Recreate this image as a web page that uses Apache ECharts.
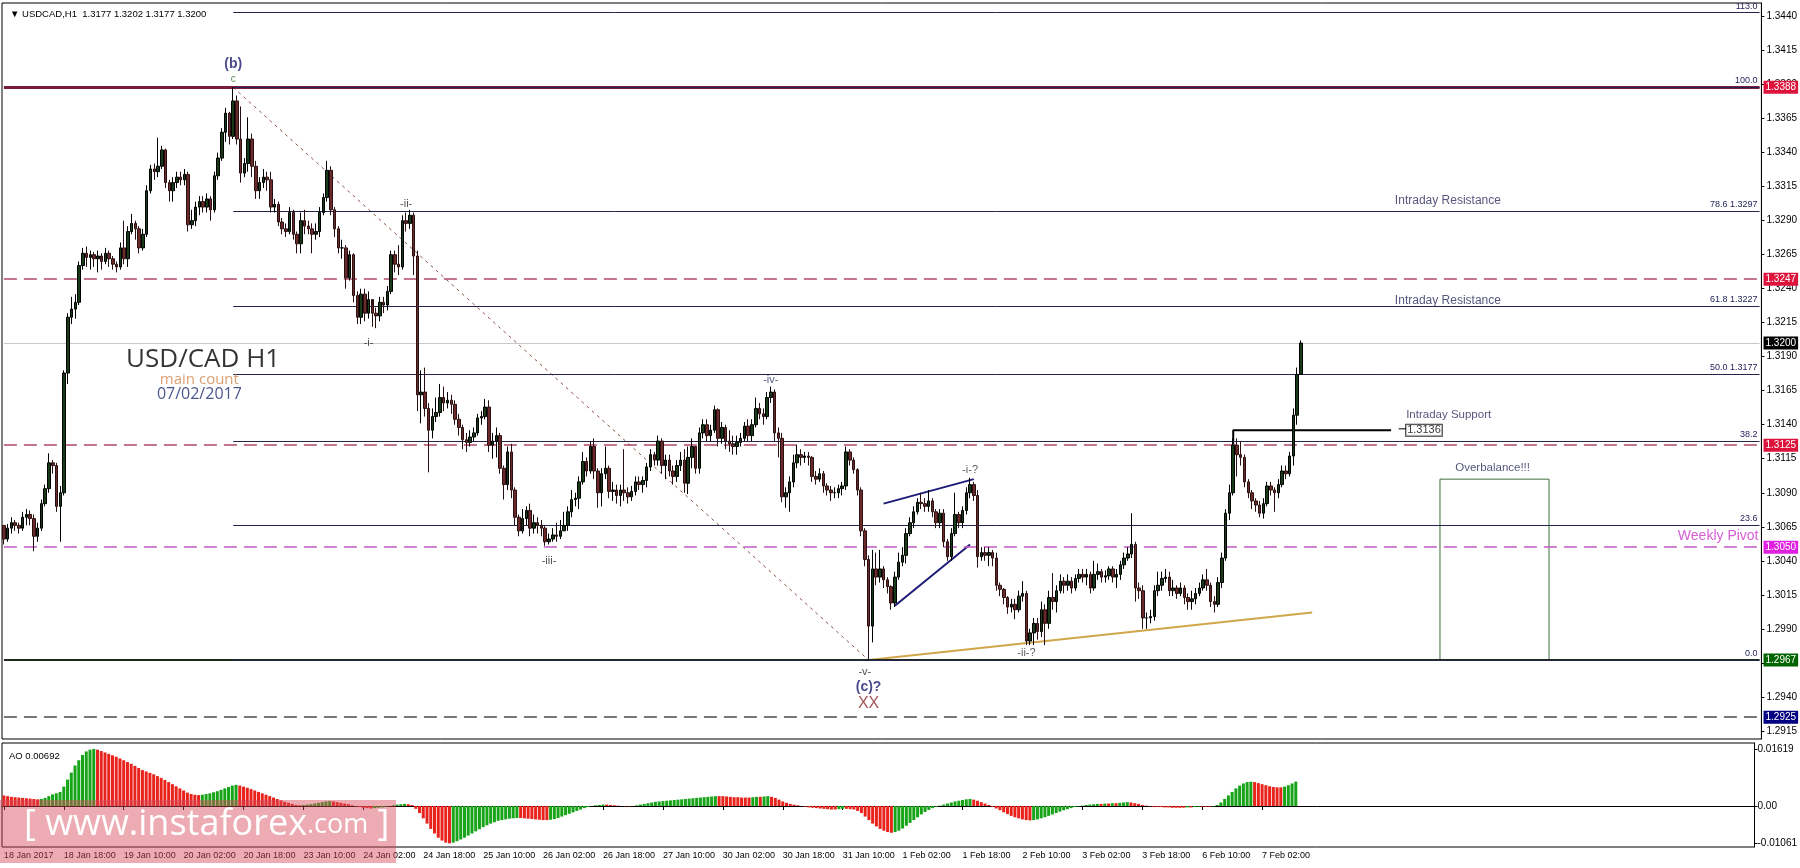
<!DOCTYPE html>
<html><head><meta charset="utf-8">
<script src="https://cdn.jsdelivr.net/npm/echarts@6/dist/echarts.min.js"></script>
<style>html,body{margin:0;padding:0;background:#fff}#c{width:1800px;height:868px}</style>
</head><body><div id="c"></div><script>
// ---------------- data ----------------
const timeLabels = ['18 Jan 2017','18 Jan 18:00','19 Jan 10:00','20 Jan 02:00','20 Jan 18:00','23 Jan 10:00','24 Jan 02:00','24 Jan 18:00','25 Jan 10:00','26 Jan 02:00','26 Jan 18:00','27 Jan 10:00','30 Jan 02:00','30 Jan 18:00','31 Jan 10:00','1 Feb 02:00','1 Feb 18:00','2 Feb 10:00','3 Feb 02:00','3 Feb 18:00','6 Feb 10:00','7 Feb 02:00'];
const firstOpen = 1.3066;
const closes = [
1.3056,1.3064,1.3068,1.3066,1.3064,1.3072,1.3074,1.3071,1.3058,1.3064,
1.3082,1.3093,1.3112,1.3110,1.3080,1.3090,1.3178,1.3219,1.3225,1.3230,
1.3257,1.3266,1.3263,1.3265,1.3262,1.3264,1.3260,1.3266,1.3262,1.3258,
1.3256,1.3270,1.3262,1.3282,1.3288,1.3284,1.3270,1.3280,1.3312,1.3328,
1.3326,1.3330,1.3342,1.3318,1.3312,1.3318,1.3322,1.3320,1.3324,1.3287,
1.3290,1.3300,1.3304,1.3300,1.3306,1.3298,1.3323,1.3336,1.3355,1.3369,
1.3352,1.3378,1.3350,1.3325,1.3332,1.3350,1.3330,1.3312,1.3318,1.3322,
1.3320,1.3300,1.3302,1.3289,1.3284,1.3282,1.3296,1.3280,1.3273,1.3290,
1.3286,1.3284,1.3280,1.3282,1.3296,1.3307,1.3327,1.3298,1.3284,1.3270,
1.3270,1.3248,1.3265,1.3235,1.3219,1.3236,1.3222,1.3232,1.3222,1.3220,
1.3230,1.3228,1.3238,1.3265,1.3258,1.3256,1.3290,1.3288,1.3294,1.3264,
1.3162,1.3164,1.3152,1.3136,1.3146,1.3149,1.3160,1.3156,1.3158,1.3155,
1.3144,1.3138,1.3129,1.3127,1.3131,1.3134,1.3145,1.3146,1.3153,1.3125,
1.3128,1.3132,1.3108,1.3096,1.3120,1.3092,1.3072,1.3062,1.3071,1.3077,
1.3064,1.3068,1.3066,1.3064,1.3054,1.3056,1.3059,1.3058,1.3062,1.3066,
1.3076,1.3085,1.3086,1.3098,1.3113,1.3106,1.3124,1.3106,1.3090,1.3104,
1.3108,1.3091,1.3092,1.3088,1.3092,1.3090,1.3087,1.3091,1.3098,1.3096,
1.3099,1.3109,1.3118,1.3114,1.3128,1.3110,1.3114,1.3106,1.3102,1.3110,
1.3114,1.3097,1.3116,1.3124,1.3108,1.3134,1.3140,1.3132,1.3136,1.3151,
1.3130,1.3138,1.3128,1.3126,1.3124,1.3127,1.3130,1.3139,1.3132,1.3140,
1.3152,1.3148,1.3146,1.3160,1.3164,1.3134,1.3130,1.3087,1.3090,1.3098,
1.3112,1.3118,1.3116,1.3117,1.3116,1.3102,1.3100,1.3104,1.3095,1.3092,
1.3090,1.3090,1.3093,1.3095,1.3120,1.3114,1.3107,1.3092,1.3062,1.3041,
1.2992,1.3034,1.3028,1.3034,1.3026,1.3021,1.3009,1.3028,1.3039,1.3044,
1.3060,1.3068,1.3076,1.3083,1.3082,1.3080,1.3084,1.3076,1.3068,1.3075,
1.3054,1.3043,1.3060,1.3074,1.3068,1.3077,1.3090,1.3096,1.3088,1.3043,
1.3046,1.3044,1.3046,1.3042,1.3022,1.3019,1.3013,1.3006,1.3008,1.3004,
1.3014,1.3016,1.2981,1.2987,1.2994,1.2988,1.3004,1.2994,1.3013,1.3010,
1.3018,1.3025,1.3022,1.3025,1.3020,1.3027,1.3030,1.3028,1.3030,1.3020,
1.3030,1.3032,1.3028,1.3029,1.3034,1.3028,1.3030,1.3037,1.3042,1.3045,
1.3052,1.3020,1.3018,1.2998,1.2998,1.2999,1.3018,1.3022,1.3027,1.3028,
1.3018,1.3020,1.3016,1.3020,1.3013,1.3010,1.3012,1.3016,1.3020,1.3026,
1.3022,1.3010,1.3008,1.3024,1.3042,1.3075,1.3090,1.3125,1.3118,1.3116,
1.3098,1.3090,1.3084,1.3081,1.3075,1.3082,1.3095,1.3092,1.3090,1.3096,
1.3106,1.3104,1.3117,1.3147,1.3177,1.3200];
const highs = [
1.3066,1.3067,1.3072,1.3070,1.3068,1.3076,1.3078,1.3077,1.3074,1.3068,
1.3085,1.3096,1.3119,1.3114,1.3112,1.3095,1.3180,1.3222,1.3234,1.3236,
1.3260,1.3270,1.3271,1.3268,1.3267,1.3268,1.3266,1.3270,1.3268,1.3264,
1.3260,1.3274,1.3290,1.3286,1.3295,1.3290,1.3286,1.3284,1.3316,1.3331,
1.3332,1.3351,1.3345,1.3343,1.3320,1.3322,1.3326,1.3326,1.3328,1.3326,
1.3298,1.3304,1.3308,1.3308,1.3310,1.3308,1.3326,1.3340,1.3358,1.3373,
1.3370,1.3388,1.3382,1.3374,1.3336,1.3366,1.3354,1.3334,1.3322,1.3328,
1.3326,1.3326,1.3306,1.3304,1.3292,1.3288,1.3300,1.3298,1.3282,1.3296,
1.3298,1.3290,1.3288,1.3288,1.3300,1.3310,1.3334,1.3330,1.3300,1.3286,
1.3276,1.3272,1.3268,1.3266,1.3238,1.3240,1.3240,1.3238,1.3228,1.3226,
1.3234,1.3234,1.3242,1.3268,1.3268,1.3272,1.3294,1.3296,1.3298,1.3296,
1.3268,1.3180,1.3182,1.3156,1.3152,1.3160,1.3170,1.3168,1.3164,1.3162,
1.3158,1.3148,1.3140,1.3134,1.3136,1.3138,1.3148,1.3150,1.3159,1.3158,
1.3134,1.3138,1.3134,1.3110,1.3124,1.3126,1.3094,1.3074,1.3078,1.3080,
1.3082,1.3074,1.3072,1.3070,1.3066,1.3060,1.3064,1.3068,1.3070,1.3076,
1.3080,1.3092,1.3090,1.3102,1.3120,1.3116,1.3128,1.3130,1.3108,1.3108,
1.3124,1.3110,1.3098,1.3096,1.3096,1.3122,1.3094,1.3095,1.3102,1.3102,
1.3102,1.3112,1.3122,1.3120,1.3132,1.3130,1.3118,1.3118,1.3110,1.3114,
1.3120,1.3122,1.3124,1.3130,1.3124,1.3138,1.3144,1.3144,1.3140,1.3154,
1.3152,1.3142,1.3140,1.3136,1.3132,1.3132,1.3134,1.3142,1.3144,1.3144,
1.3160,1.3156,1.3152,1.3164,1.3168,1.3166,1.3138,1.3134,1.3094,1.3102,
1.3118,1.3125,1.3122,1.3120,1.3120,1.3117,1.3106,1.3108,1.3106,1.3097,
1.3095,1.3094,1.3096,1.3098,1.3124,1.3122,1.3116,1.3108,1.3094,1.3064,
1.3044,1.3048,1.3046,1.3048,1.3036,1.3028,1.3022,1.3032,1.3046,1.3050,
1.3064,1.3072,1.3080,1.3086,1.3090,1.3086,1.3092,1.3086,1.3078,1.3078,
1.3078,1.3056,1.3064,1.3090,1.3076,1.3080,1.3094,1.3101,1.3098,1.3092,
1.3050,1.3050,1.3050,1.3048,1.3046,1.3024,1.3020,1.3014,1.3012,1.3012,
1.3018,1.3025,1.3018,1.2990,1.2998,1.2998,1.3010,1.3008,1.3018,1.3031,
1.3022,1.3030,1.3028,1.3030,1.3028,1.3030,1.3034,1.3034,1.3034,1.3032,
1.3040,1.3038,1.3034,1.3033,1.3036,1.3036,1.3034,1.3040,1.3046,1.3050,
1.3075,1.3054,1.3024,1.3022,1.3002,1.3004,1.3022,1.3032,1.3032,1.3034,
1.3032,1.3026,1.3022,1.3024,1.3022,1.3016,1.3018,1.3020,1.3024,1.3030,
1.3034,1.3024,1.3014,1.3028,1.3046,1.3078,1.3096,1.3130,1.3130,1.3128,
1.3118,1.3100,1.3092,1.3086,1.3084,1.3086,1.3098,1.3098,1.3094,1.3100,
1.3110,1.3110,1.3120,1.3152,1.3182,1.3202];
const lows = [
1.3052,1.3054,1.3060,1.3062,1.3060,1.3062,1.3066,1.3066,1.3047,1.3054,
1.3062,1.3080,1.3090,1.3104,1.3076,1.3054,1.3088,1.3170,1.3214,1.3218,
1.3228,1.3254,1.3256,1.3254,1.3256,1.3252,1.3254,1.3258,1.3256,1.3254,
1.3252,1.3254,1.3258,1.3256,1.3280,1.3276,1.3266,1.3268,1.3278,1.3310,
1.3320,1.3322,1.3328,1.3314,1.3304,1.3304,1.3314,1.3316,1.3316,1.3282,
1.3284,1.3286,1.3294,1.3296,1.3296,1.3290,1.3296,1.3320,1.3334,1.3348,
1.3346,1.3350,1.3346,1.3318,1.3322,1.3326,1.3322,1.3306,1.3306,1.3314,
1.3312,1.3296,1.3296,1.3286,1.3280,1.3278,1.3280,1.3276,1.3266,1.3266,
1.3280,1.3280,1.3266,1.3276,1.3278,1.3294,1.3304,1.3294,1.3278,1.3266,
1.3262,1.3240,1.3246,1.3230,1.3214,1.3214,1.3216,1.3218,1.3212,1.3211,
1.3216,1.3222,1.3224,1.3236,1.3252,1.3250,1.3254,1.3282,1.3284,1.3250,
1.3150,1.3141,1.3146,1.3105,1.3130,1.3142,1.3146,1.3150,1.3152,1.3148,
1.3140,1.3132,1.3122,1.3120,1.3124,1.3128,1.3132,1.3140,1.3144,1.3120,
1.3115,1.3116,1.3104,1.3085,1.3092,1.3086,1.3066,1.3058,1.3060,1.3066,
1.3058,1.3060,1.3060,1.3058,1.3051,1.3052,1.3054,1.3054,1.3056,1.3062,
1.3062,1.3072,1.3080,1.3078,1.3096,1.3102,1.3104,1.3100,1.3079,1.3080,
1.3100,1.3086,1.3084,1.3082,1.3080,1.3084,1.3082,1.3084,1.3088,1.3092,
1.3090,1.3094,1.3106,1.3110,1.3110,1.3104,1.3100,1.3102,1.3096,1.3098,
1.3106,1.3090,1.3089,1.3108,1.3104,1.3104,1.3130,1.3128,1.3128,1.3134,
1.3124,1.3126,1.3122,1.3120,1.3118,1.3118,1.3124,1.3128,1.3128,1.3128,
1.3138,1.3144,1.3140,1.3144,1.3156,1.3128,1.3116,1.3083,1.3079,1.3076,
1.3094,1.3108,1.3110,1.3112,1.3110,1.3098,1.3096,1.3098,1.3090,1.3088,
1.3084,1.3086,1.3086,1.3088,1.3092,1.3110,1.3104,1.3088,1.3058,1.3036,
1.2967,1.2980,1.3022,1.3024,1.3020,1.3016,1.3004,1.3006,1.3026,1.3036,
1.3038,1.3058,1.3064,1.3074,1.3078,1.3076,1.3076,1.3072,1.3064,1.3064,
1.3050,1.3040,1.3040,1.3058,1.3064,1.3064,1.3074,1.3086,1.3084,1.3035,
1.3040,1.3040,1.3036,1.3036,1.3018,1.3014,1.3008,1.3001,1.3002,1.2997,
1.3002,1.3010,1.2978,1.2978,1.2978,1.2982,1.2984,1.2978,1.2990,1.3004,
1.3002,1.3016,1.3016,1.3018,1.3016,1.3018,1.3024,1.3024,1.3022,1.3016,
1.3018,1.3026,1.3024,1.3024,1.3026,1.3024,1.3020,1.3026,1.3034,1.3040,
1.3042,1.3010,1.3012,1.2990,1.2990,1.2994,1.2996,1.3014,1.3018,1.3024,
1.3014,1.3014,1.3012,1.3014,1.3008,1.3004,1.3004,1.3008,1.3014,1.3018,
1.3018,1.3006,1.3002,1.3006,1.3020,1.3040,1.3070,1.3088,1.3102,1.3110,
1.3094,1.3086,1.3078,1.3076,1.3072,1.3071,1.3080,1.3088,1.3076,1.3086,
1.3094,1.3100,1.3102,1.3110,1.3140,1.3177];
const aoValues = [
0.0030,0.0028,0.0026,0.0025,0.0024,0.0023,0.0022,0.0021,0.0020,0.0019,
0.0020,0.0023,0.0028,0.0033,0.0036,0.0040,0.0055,0.0075,0.0095,0.0115,
0.0130,0.0145,0.0155,0.0160,0.0162,0.0160,0.0156,0.0152,0.0148,0.0144,
0.0140,0.0135,0.0130,0.0125,0.0120,0.0114,0.0108,0.0102,0.0098,0.0094,
0.0090,0.0085,0.0080,0.0074,0.0068,0.0062,0.0056,0.0050,0.0044,0.0038,
0.0034,0.0032,0.0031,0.0032,0.0034,0.0036,0.0039,0.0042,0.0046,0.0050,
0.0054,0.0058,0.0060,0.0058,0.0055,0.0052,0.0048,0.0044,0.0040,0.0036,
0.0032,0.0028,0.0024,0.0020,0.0016,0.0012,0.0009,0.0006,0.0003,0.0002,
0.0003,0.0004,0.0005,0.0007,0.0009,0.0011,0.0013,0.0014,0.0013,0.0011,
0.0009,0.0007,0.0005,0.0002,-0.0001,-0.0003,-0.0005,-0.0006,-0.0007,-0.0006,
-0.0005,-0.0004,-0.0002,0.0000,0.0002,0.0004,0.0005,0.0006,0.0005,0.0003,
-0.0008,-0.0020,-0.0035,-0.0050,-0.0065,-0.0078,-0.0090,-0.0098,-0.0104,-0.0106,
-0.0104,-0.0100,-0.0095,-0.0090,-0.0084,-0.0078,-0.0072,-0.0066,-0.0060,-0.0055,
-0.0050,-0.0046,-0.0042,-0.0040,-0.0038,-0.0036,-0.0035,-0.0034,-0.0034,-0.0035,
-0.0036,-0.0037,-0.0038,-0.0039,-0.0040,-0.0040,-0.0039,-0.0037,-0.0034,-0.0030,
-0.0026,-0.0022,-0.0018,-0.0014,-0.0010,-0.0006,-0.0003,0.0000,0.0002,0.0003,
0.0004,0.0004,0.0003,0.0002,0.0001,0.0000,-0.0001,-0.0001,0.0000,0.0002,
0.0004,0.0006,0.0008,0.0010,0.0012,0.0013,0.0014,0.0015,0.0016,0.0017,
0.0018,0.0019,0.0020,0.0021,0.0022,0.0023,0.0024,0.0025,0.0026,0.0027,
0.0028,0.0028,0.0028,0.0027,0.0026,0.0025,0.0025,0.0024,0.0024,0.0024,
0.0025,0.0026,0.0026,0.0027,0.0028,0.0026,0.0023,0.0018,0.0013,0.0009,
0.0006,0.0004,0.0002,0.0000,-0.0002,-0.0004,-0.0005,-0.0006,-0.0007,-0.0008,
-0.0009,-0.0010,-0.0010,-0.0009,-0.0008,-0.0008,-0.0009,-0.0010,-0.0014,-0.0020,
-0.0030,-0.0040,-0.0050,-0.0058,-0.0065,-0.0070,-0.0074,-0.0076,-0.0074,-0.0070,
-0.0064,-0.0056,-0.0048,-0.0040,-0.0032,-0.0024,-0.0017,-0.0011,-0.0006,-0.0002,
0.0001,0.0004,0.0007,0.0010,0.0013,0.0015,0.0017,0.0019,0.0020,0.0018,
0.0015,0.0011,0.0007,0.0003,-0.0002,-0.0007,-0.0012,-0.0018,-0.0023,-0.0028,
-0.0032,-0.0035,-0.0038,-0.0040,-0.0041,-0.0040,-0.0038,-0.0035,-0.0032,-0.0028,
-0.0024,-0.0020,-0.0016,-0.0012,-0.0009,-0.0006,-0.0003,-0.0001,0.0001,0.0003,
0.0004,0.0005,0.0006,0.0006,0.0007,0.0007,0.0008,0.0008,0.0009,0.0010,
0.0011,0.0010,0.0008,0.0006,0.0003,0.0001,-0.0001,-0.0002,-0.0003,-0.0003,
-0.0004,-0.0004,-0.0005,-0.0005,-0.0005,-0.0005,-0.0004,-0.0004,-0.0003,-0.0002,
-0.0002,-0.0002,-0.0002,-0.0001,0.0003,0.0010,0.0020,0.0030,0.0040,0.0050,
0.0058,0.0064,0.0068,0.0069,0.0068,0.0065,0.0062,0.0059,0.0056,0.0054,
0.0053,0.0053,0.0055,0.0059,0.0064,0.00692];
const priceTicks = [1.2915,1.2940,1.2965,1.2990,1.3015,1.3040,1.3065,1.3090,1.3115,1.3140,1.3165,1.3190,1.3215,1.3240,1.3265,1.3290,1.3315,1.3340,1.3365,1.3390,1.3415,1.3440];
const aoTicks = [0.01619, 0, -0.01061];
const fibLabels = ['113.0','100.0','78.6 1.3297','61.8 1.3227','50.0 1.3177','38.2','23.6','0.0'];
const fibPrices = [1.3443,1.3388,1.3297,1.3227,1.3177,1.3128,1.3066,1.2967];
const levelPrices = [1.3388,1.3247,1.3200,1.3125,1.3050,1.2967,1.2925];
const supportPrice = 1.3136;
const overbalanceTop = 1.3100;
const waveLabels = ['(b)','c','-i-','-ii-','-iii-','-iv-','-v-','(c)?','XX','-i-?','-ii-?'];
const headerText = '\u25BC USDCAD,H1  1.3177 1.3202 1.3177 1.3200';

// ---------------- chart ----------------
const N_SLOTS = 468;
const categories = Array.from({length: N_SLOTS}, (_, i) => String(i));
const LAST = N_SLOTS - 1;
const FONT = '"Liberation Sans", Arial, sans-serif';
const candles = closes.map((c, i) => [i === 0 ? firstOpen : closes[i - 1], c, lows[i], highs[i]]);
const aoData = aoValues.map((v, i) => ({value: v, itemStyle: {color: (i > 0 && v > aoValues[i - 1]) ? '#18a418' : '#e8231c'}}));

const levelStyles = [
  {color:'#7a1c3c', width:3, type:'solid', tag:'#dc143c'},
  {color:'#b04a68', width:1.5, type:[13,7], tag:'#dc143c'},
  {color:'#c8c8c8', width:1, type:'solid', tag:'#000000'},
  {color:'#b04a68', width:1.5, type:[13,7], tag:'#dc143c'},
  {color:'#c25ac2', width:1.5, type:[13,7], tag:'#e020e0'},
  {color:'#1d2a1d', width:2, type:'solid', tag:'#006400'},
  {color:'#4a4a4a', width:1.5, type:[13,7], tag:'#000080'}
];
const levelLines = levelPrices.map((p, i) => [
  {coord: [0, p], lineStyle: {color: levelStyles[i].color, width: levelStyles[i].width, type: levelStyles[i].type},
   label: {show: true, position: 'end', distance: 4, formatter: p.toFixed(4), color: '#fff',
          backgroundColor: levelStyles[i].tag, padding: [2,2,1,2], fontSize: 10, fontFamily: FONT}},
  {coord: [LAST, p]}
]);
const fibLines = fibPrices.map((p, i) => [
  {coord: [61, p], lineStyle: {color: '#24244e', width: 1, type: 'solid'},
   label: {show: true, position: 'insideEndTop', distance: 2, formatter: fibLabels[i], color: '#24245a', fontSize: 9, fontFamily: FONT}},
  {coord: [LAST, p]}
]);

function ann(text, x, y, color, size, opt) {
  opt = opt || {};
  return {value: [x, y], label: {show: true, formatter: text, position: opt.pos || 'inside', distance: 0,
    color: color, fontSize: size, fontWeight: opt.bold ? 'bold' : 'normal', fontFamily: opt.font || FONT,
    backgroundColor: opt.bg, borderColor: opt.bc, borderWidth: opt.bc ? 1 : 0, padding: opt.pad || 0}};
}
const annotations = [
  ann(waveLabels[0], 61, 1.3405, '#1a1a6e', 14, {bold: true}),
  ann(waveLabels[1], 61, 1.3394, '#2f6f2f', 10),
  ann(waveLabels[2], 97, 1.3200, '#222', 11),
  ann(waveLabels[3], 107, 1.3302, '#222', 11),
  ann(waveLabels[4], 145, 1.3040, '#222', 11),
  ann(waveLabels[5], 204, 1.3173, '#30306a', 11),
  ann(waveLabels[6], 229, 1.2958, '#222', 11),
  ann(waveLabels[7], 230, 1.2947, '#1a1a6e', 14, {bold: true}),
  ann(waveLabels[8], 230, 1.2935, '#8b2a2a', 16),
  ann(waveLabels[9], 257, 1.3107, '#333', 11),
  ann(waveLabels[10], 272, 1.2972, '#333', 11),
  ann('USD/CAD H1', 53, 1.3188, '#000', 26, {font: '"Open Sans", sans-serif'}),
  ann('main count', 52, 1.3173, '#d08850', 15, {font: '"Open Sans", sans-serif'}),
  ann('07/02/2017', 52, 1.3162, '#1c2a6e', 16, {font: '"Open Sans", sans-serif'}),
  ann('Intraday Resistance', 370, 1.3305, '#2b2b5e', 12, {pos: 'right'}),
  ann('Intraday Resistance', 370, 1.3231, '#2b2b5e', 12, {pos: 'right'}),
  ann('Intraday Support', 373, 1.3147, '#2b2b5e', 11.5, {pos: 'right'}),
  ann(supportPrice.toFixed(4), 373, 1.3136, '#000', 11, {pos: 'right', bg: '#fff', bc: '#000', pad: [0,1,0,1]}),
  ann('Overbalance!!!', 396, 1.3108, '#2b2b5e', 11.5),
  ann('Weekly Pivot', 456, 1.3058, '#cc33cc', 14)
];

function seg(points, color, width, type) {
  return {type: 'line', xAxisIndex: 0, yAxisIndex: 0, data: points, symbol: 'none', silent: true,
          lineStyle: {color: color, width: width, type: type || 'solid'}, z: 4, animation: false};
}

const option = {
  animation: false,
  backgroundColor: '#fff',
  title: [
    {text: headerText, left: 5, top: 4, textStyle: {fontSize: 9.5, fontWeight: 'normal', color: '#000', fontFamily: FONT}},
    {text: 'AO ' + aoValues[aoValues.length - 1].toFixed(5), left: 4, top: 746, textStyle: {fontSize: 9.5, fontWeight: 'normal', color: '#000', fontFamily: FONT}}
  ],
  grid: [
    {left: 2, top: 3, width: 1761, height: 736, show: true, borderColor: '#000', borderWidth: 1, backgroundColor: 'transparent'},
    {left: 2, top: 743, width: 1761, height: 104, show: true, borderColor: '#000', borderWidth: 1, backgroundColor: 'transparent'}
  ],
  xAxis: [
    {type: 'category', gridIndex: 0, data: categories, axisLine: {show: false}, axisTick: {show: false}, axisLabel: {show: false}, splitLine: {show: false}},
    {type: 'category', gridIndex: 1, data: categories, axisLine: {show: true, lineStyle: {color: '#000'}},
     axisTick: {show: true, alignWithLabel: true, length: 4, lineStyle: {color: '#000'}, interval: (i) => i % 16 === 0 && i / 16 < timeLabels.length},
     axisLabel: {show: true, interval: (i) => i % 16 === 0 && i / 16 < timeLabels.length, align: 'left', margin: 4, fontSize: 9, color: '#000', fontFamily: FONT,
       formatter: (v, i) => (i % 16 === 0 && timeLabels[i / 16]) ? timeLabels[i / 16] : ''},
     splitLine: {show: false}}
  ],
  yAxis: [
    {type: 'value', gridIndex: 0, position: 'right', min: 1.2909, max: 1.3450, scale: true,
     axisLine: {show: true, lineStyle: {color: '#000'}},
     axisTick: {show: true, length: 3, customValues: priceTicks, lineStyle: {color: '#000'}},
     axisLabel: {show: true, customValues: priceTicks, margin: 5, fontSize: 10, color: '#000', fontFamily: FONT, formatter: (v) => v.toFixed(4)},
     splitLine: {show: false}},
    {type: 'value', gridIndex: 1, position: 'right', min: -0.01164, max: 0.01789,
     axisLine: {show: true, lineStyle: {color: '#000'}},
     axisTick: {show: true, length: 3, customValues: aoTicks, lineStyle: {color: '#000'}},
     axisLabel: {show: true, customValues: aoTicks, margin: 3, fontSize: 10, color: '#000', fontFamily: FONT, formatter: (v) => v === 0 ? '0.00' : v.toFixed(5)},
     splitLine: {show: false}}
  ],
  series: [
    {type: 'line', xAxisIndex: 0, yAxisIndex: 0, data: [], clip: false, silent: true, z: 3,
     markLine: {symbol: ['none', 'none'], precision: 6, silent: true, animation: false, data: levelLines.concat(fibLines)},
     markArea: {silent: true, data: [[{xAxis: 382, yAxis: overbalanceTop}, {xAxis: 411, yAxis: fibPrices[7]}]],
       itemStyle: {color: 'rgba(0,0,0,0)', borderColor: '#3b6e3b', borderWidth: 1}}},
    seg([[61, fibPrices[1]], [230, fibPrices[7]]], '#8a5244', 1, [3, 4]),
    seg([[230, fibPrices[7]], [348, 1.3002]], '#cfa64a', 2),
    seg([[234, 1.3082], [258, 1.3100]], '#1c1c78', 2),
    seg([[237, 1.3007], [257, 1.3052]], '#1c1c78', 2),
    seg([[327, 1.3125], [327, supportPrice], [369, supportPrice]], '#000', 2),
    seg([[371, 1.3137], [373, 1.3137]], '#000', 1),
    {type: 'candlestick', xAxisIndex: 0, yAxisIndex: 0, data: candles, barWidth: 3, z: 5,
     itemStyle: {color: '#173a17', color0: '#6a2a2a', borderColor: '#000000', borderColor0: '#2a1010', borderWidth: 1}},
    {type: 'scatter', xAxisIndex: 0, yAxisIndex: 0, data: annotations, symbolSize: 0, silent: true, z: 6, clip: false},
    {type: 'bar', xAxisIndex: 1, yAxisIndex: 1, data: aoData, barWidth: 3, silent: true}
  ],
  graphic: [
    {type: 'rect', left: 0, top: 800, z: 100, shape: {width: 396, height: 63}, style: {fill: 'rgba(214,72,88,0.45)'}},
    {type: 'text', left: 24, top: 807, z: 101, style: {text: '[ {a|www.instaforex}{b|.com} ]', fill: '#fff', fontSize: 36,
      fontFamily: '"Open Sans", sans-serif', rich: {a: {fontSize: 36, fill: '#fff', fontFamily: '"Open Sans", sans-serif'}, b: {fontSize: 27, fill: '#fff', fontFamily: '"Open Sans", sans-serif'}}}}
  ]
};
const chart = echarts.init(document.getElementById('c'), null, {width: 1800, height: 868});
chart.setOption(option);
</script></body></html>
